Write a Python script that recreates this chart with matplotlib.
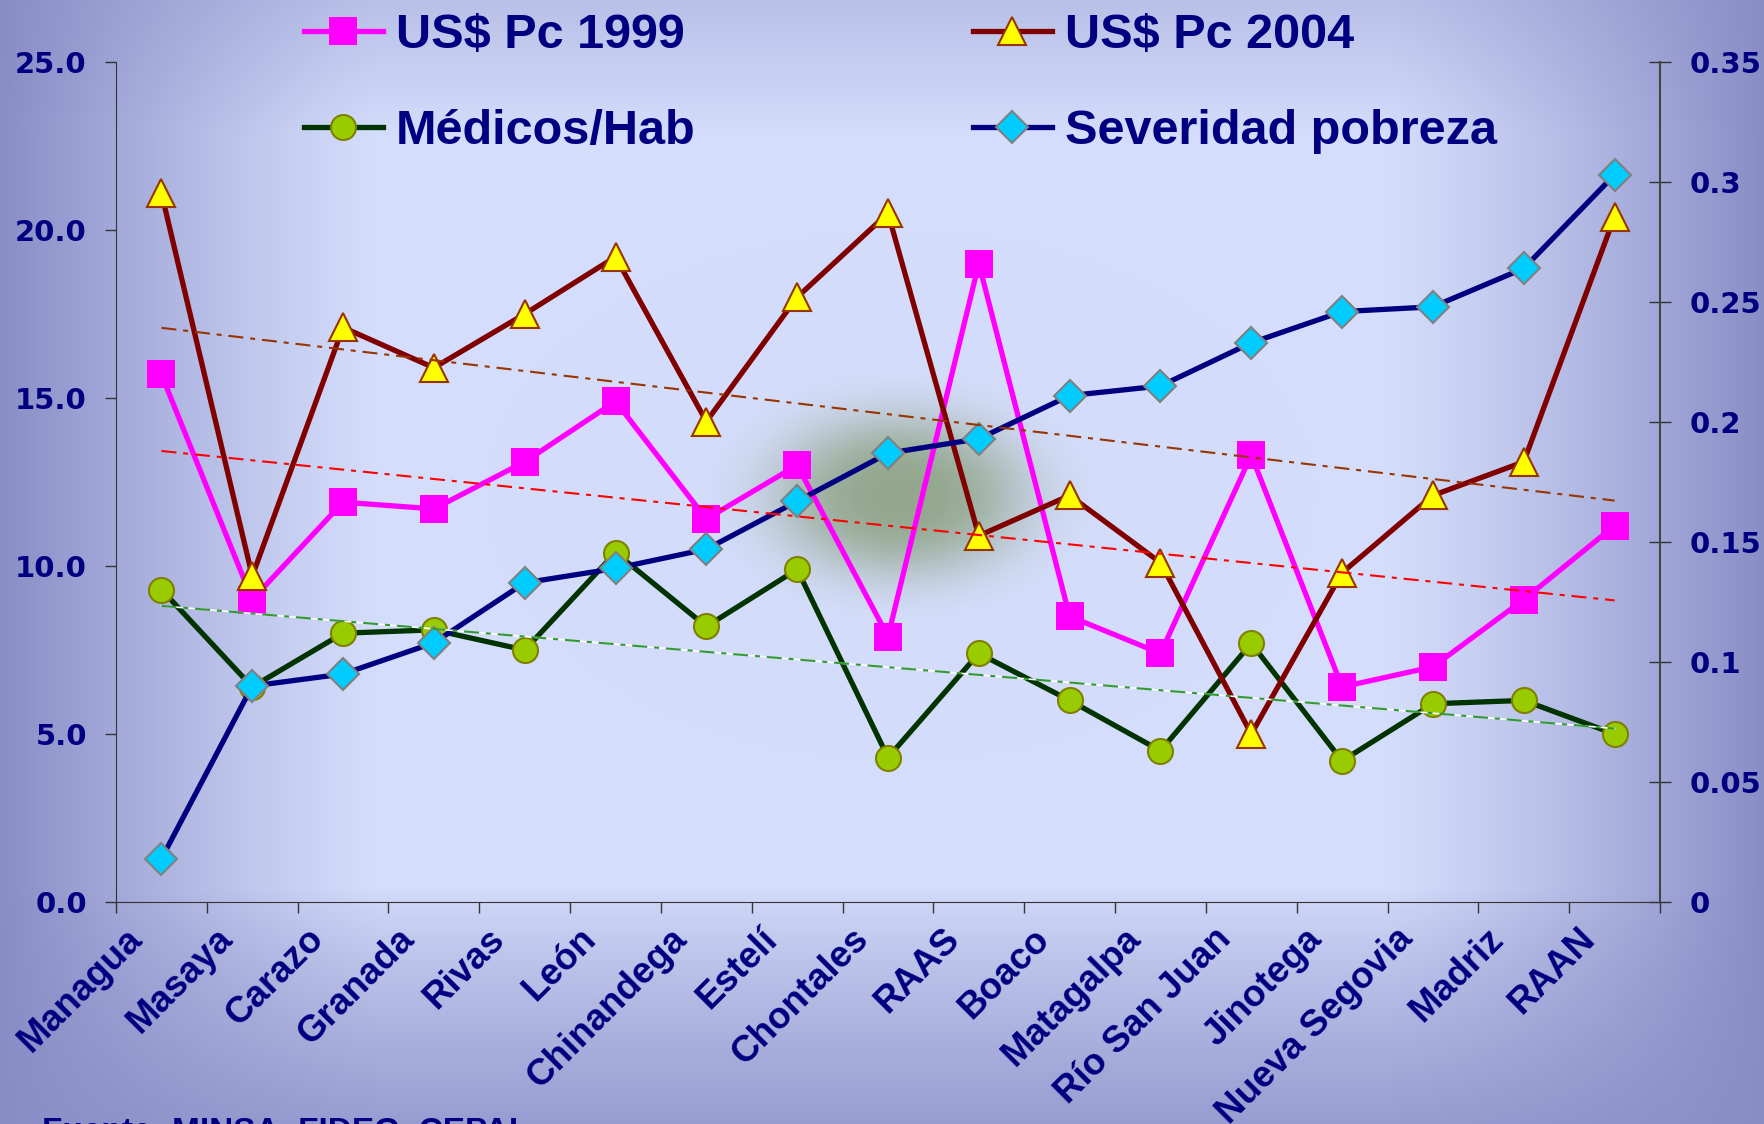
import numpy as np
import matplotlib
matplotlib.use("Agg")
import matplotlib.pyplot as plt
import matplotlib.transforms as mtransforms

# ── Data ──────────────────────────────────────────────────────────────────────
regiones = ["Managua", "Masaya", "Carazo", "Granada", "Rivas", "León",
            "Chinandega", "Estelí", "Chontales", "RAAS", "Boaco", "Matagalpa",
            "Río San Juan", "Jinotega", "Nueva Segovia", "Madriz", "RAAN"]

pc_1999 = [15.7, 9.0, 11.9, 11.7, 13.1, 14.9, 11.4, 13.0, 7.9, 19.0,
           8.5, 7.4, 13.3, 6.4, 7.0, 9.0, 11.2]
pc_2004 = [21.1, 9.7, 17.1, 15.9, 17.5, 19.2, 14.3, 18.0, 20.5, 10.9,
           12.1, 10.1, 5.0, 9.8, 12.1, 13.1, 20.4]
medicos = [9.3, 6.4, 8.0, 8.1, 7.5, 10.4, 8.2, 9.9, 4.3, 7.4,
           6.0, 4.5, 7.7, 4.2, 5.9, 6.0, 5.0]
severidad = [0.018, 0.090, 0.095, 0.108, 0.133, 0.139, 0.147, 0.167, 0.187,
             0.193, 0.211, 0.215, 0.233, 0.246, 0.248, 0.264, 0.303]

left_ticks = [0, 5, 10, 15, 20, 25]
right_ticks = [0, 0.05, 0.1, 0.15, 0.2, 0.25, 0.3, 0.35]
right_labels = ["0", "0.05", "0.1", "0.15", "0.2", "0.25", "0.3", "0.35"]

fuente = "Fuente: MINSA, FIDEG, CEPAL"

NAVY = "#000080"

# ── Figure + background gradient ──────────────────────────────────────────────
fig = plt.figure(figsize=(17.65, 11.24), dpi=100)

H, W = 1124, 1765
yy, xx = np.mgrid[0:H, 0:W]
xn = xx / W
yn = yy / H
fx = np.clip((np.abs(xn - 0.5) / 0.5 - 0.57) / 0.43, 0, 1) ** 1.2
fb = 0.8 * np.clip((yn - 0.79) / 0.21, 0, 1) ** 0.8
ft = 0.36 * np.clip((0.12 - yn) / 0.12, 0, 1)
fy = np.maximum(fb, ft)
f = 1 - (1 - fx) * (1 - fy)
light = np.array([212, 221, 251]) / 255
dark = np.array([136, 141, 198]) / 255
img = light * (1 - f[..., None]) + dark * f[..., None]
# soft greenish shadow in the middle of the plot
w = 0.85 * np.exp(-(((xx - 900) / 125.0) ** 2 + ((yy - 495) / 80.0) ** 2) ** 1.5)
green = np.array([135, 158, 122]) / 255
img = img * (1 - w[..., None]) + green * w[..., None]

bg = fig.add_axes([0, 0, 1, 1], zorder=0)
bg.imshow(img, aspect="auto", extent=[0, 1, 0, 1])
bg.axis("off")

# ── Axes ──────────────────────────────────────────────────────────────────────
ax = fig.add_axes([116 / W, 1 - 902 / H, (1660 - 116) / W, (902 - 62) / H], zorder=1)
ax.set_facecolor("none")
ax2 = ax.twinx()

x = np.arange(len(regiones))

l1, = ax.plot(x, pc_1999, color="#FF00FF", lw=3.8, marker="s", ms=19.5,
              mfc="#FF00FF", mec="#FF00FF", mew=0, label="US$ Pc 1999", zorder=3)
l2, = ax.plot(x, pc_2004, color="#800000", lw=3.8, marker="^", ms=20,
              mfc="#FFFF00", mec="#993300", mew=1.5, label="US$ Pc 2004", zorder=4)
l3, = ax.plot(x, medicos, color="#003300", lw=3.8, marker="o", ms=18,
              mfc="#99CC00", mec="#808000", mew=1.5, label="Médicos/Hab", zorder=2)
l4, = ax2.plot(x, severidad, color="#000080", lw=3.8, marker="D", ms=16,
               mfc="#00CCFF", mec="#808080", mew=1.5, label="Severidad pobreza", zorder=3)

# linear trendlines (left axis scale, drawn on top)
ends = x[[0, -1]]
for vals, col in [(pc_2004, "#993300"), (pc_1999, "#FF0000"), (medicos, "#339933")]:
    m, b = np.polyfit(x, vals, 1)
    if col == "#339933":
        ax2.plot(ends, m * ends + b, color="white", lw=1.2,
                 transform=ax.transData, zorder=5)
    ax2.plot(ends, m * ends + b, color=col, lw=1.5, dashes=(7.2, 3.3, 2.4, 3.3),
             transform=ax.transData, zorder=6)

# ── Axis formatting ───────────────────────────────────────────────────────────
ax.set_xlim(-0.5, len(regiones) - 0.5)
ax.set_ylim(0, 25)
ax2.set_ylim(0, 0.35)

ax.set_xticks(x)
ax.set_xticklabels(regiones, rotation=45, ha="right", va="center",
                   rotation_mode="anchor", fontsize=26.5, fontweight="bold",
                   color=NAVY, family="Liberation Sans")
ax.tick_params(axis="x", which="major", length=0, pad=30)
ax.set_xticks(np.arange(-0.5, len(regiones), 1), minor=True)
ax.tick_params(axis="x", which="minor", length=8, width=1, color="#333333", direction="out")
shift = mtransforms.ScaledTranslation(-0.25, 0.10, fig.dpi_scale_trans)
for lbl in ax.get_xticklabels():
    lbl.set_transform(lbl.get_transform() + shift)

ax.set_yticks(left_ticks)
ax.set_yticklabels([f"{v:.1f}" for v in left_ticks], fontsize=21,
                   fontweight="bold", color=NAVY, family="DejaVu Sans")
ax.tick_params(axis="y", length=8, width=1, color="#333333", direction="out", pad=13)

ax2.set_yticks(right_ticks)
ax2.set_yticklabels(right_labels, fontsize=21, fontweight="bold",
                    color=NAVY, family="DejaVu Sans")
ax2.tick_params(axis="y", length=16, width=1, color="#333333", direction="inout", pad=13)

for a in (ax, ax2):
    a.spines["top"].set_visible(False)
ax.spines["right"].set_visible(False)
ax.spines["left"].set_color("#333333")
ax.spines["bottom"].set_color("#333333")
ax2.spines["left"].set_visible(False)
ax2.spines["bottom"].set_visible(False)
ax2.spines["right"].set_color("#444444")
ax2.spines["right"].set_linewidth(1.5)

# ── Legend ────────────────────────────────────────────────────────────────────
fig.legend([l1, l3, l2, l4], [l1.get_label(), l3.get_label(), l2.get_label(), l4.get_label()],
           ncol=2, loc="upper left", bbox_to_anchor=(0.172, 0.988),
           frameon=False, prop={"family": "Liberation Sans", "weight": "bold", "size": 35},
           labelcolor=NAVY, handlelength=1.63, handletextpad=0.27,
           columnspacing=5.7, labelspacing=1.03, borderpad=0, borderaxespad=0)

fig.text(42 / W, 0.006, fuente, ha="left", va="top", fontsize=24,
         fontweight="bold", color=NAVY, family="Liberation Sans")

fig.savefig("out.png", dpi=100)
